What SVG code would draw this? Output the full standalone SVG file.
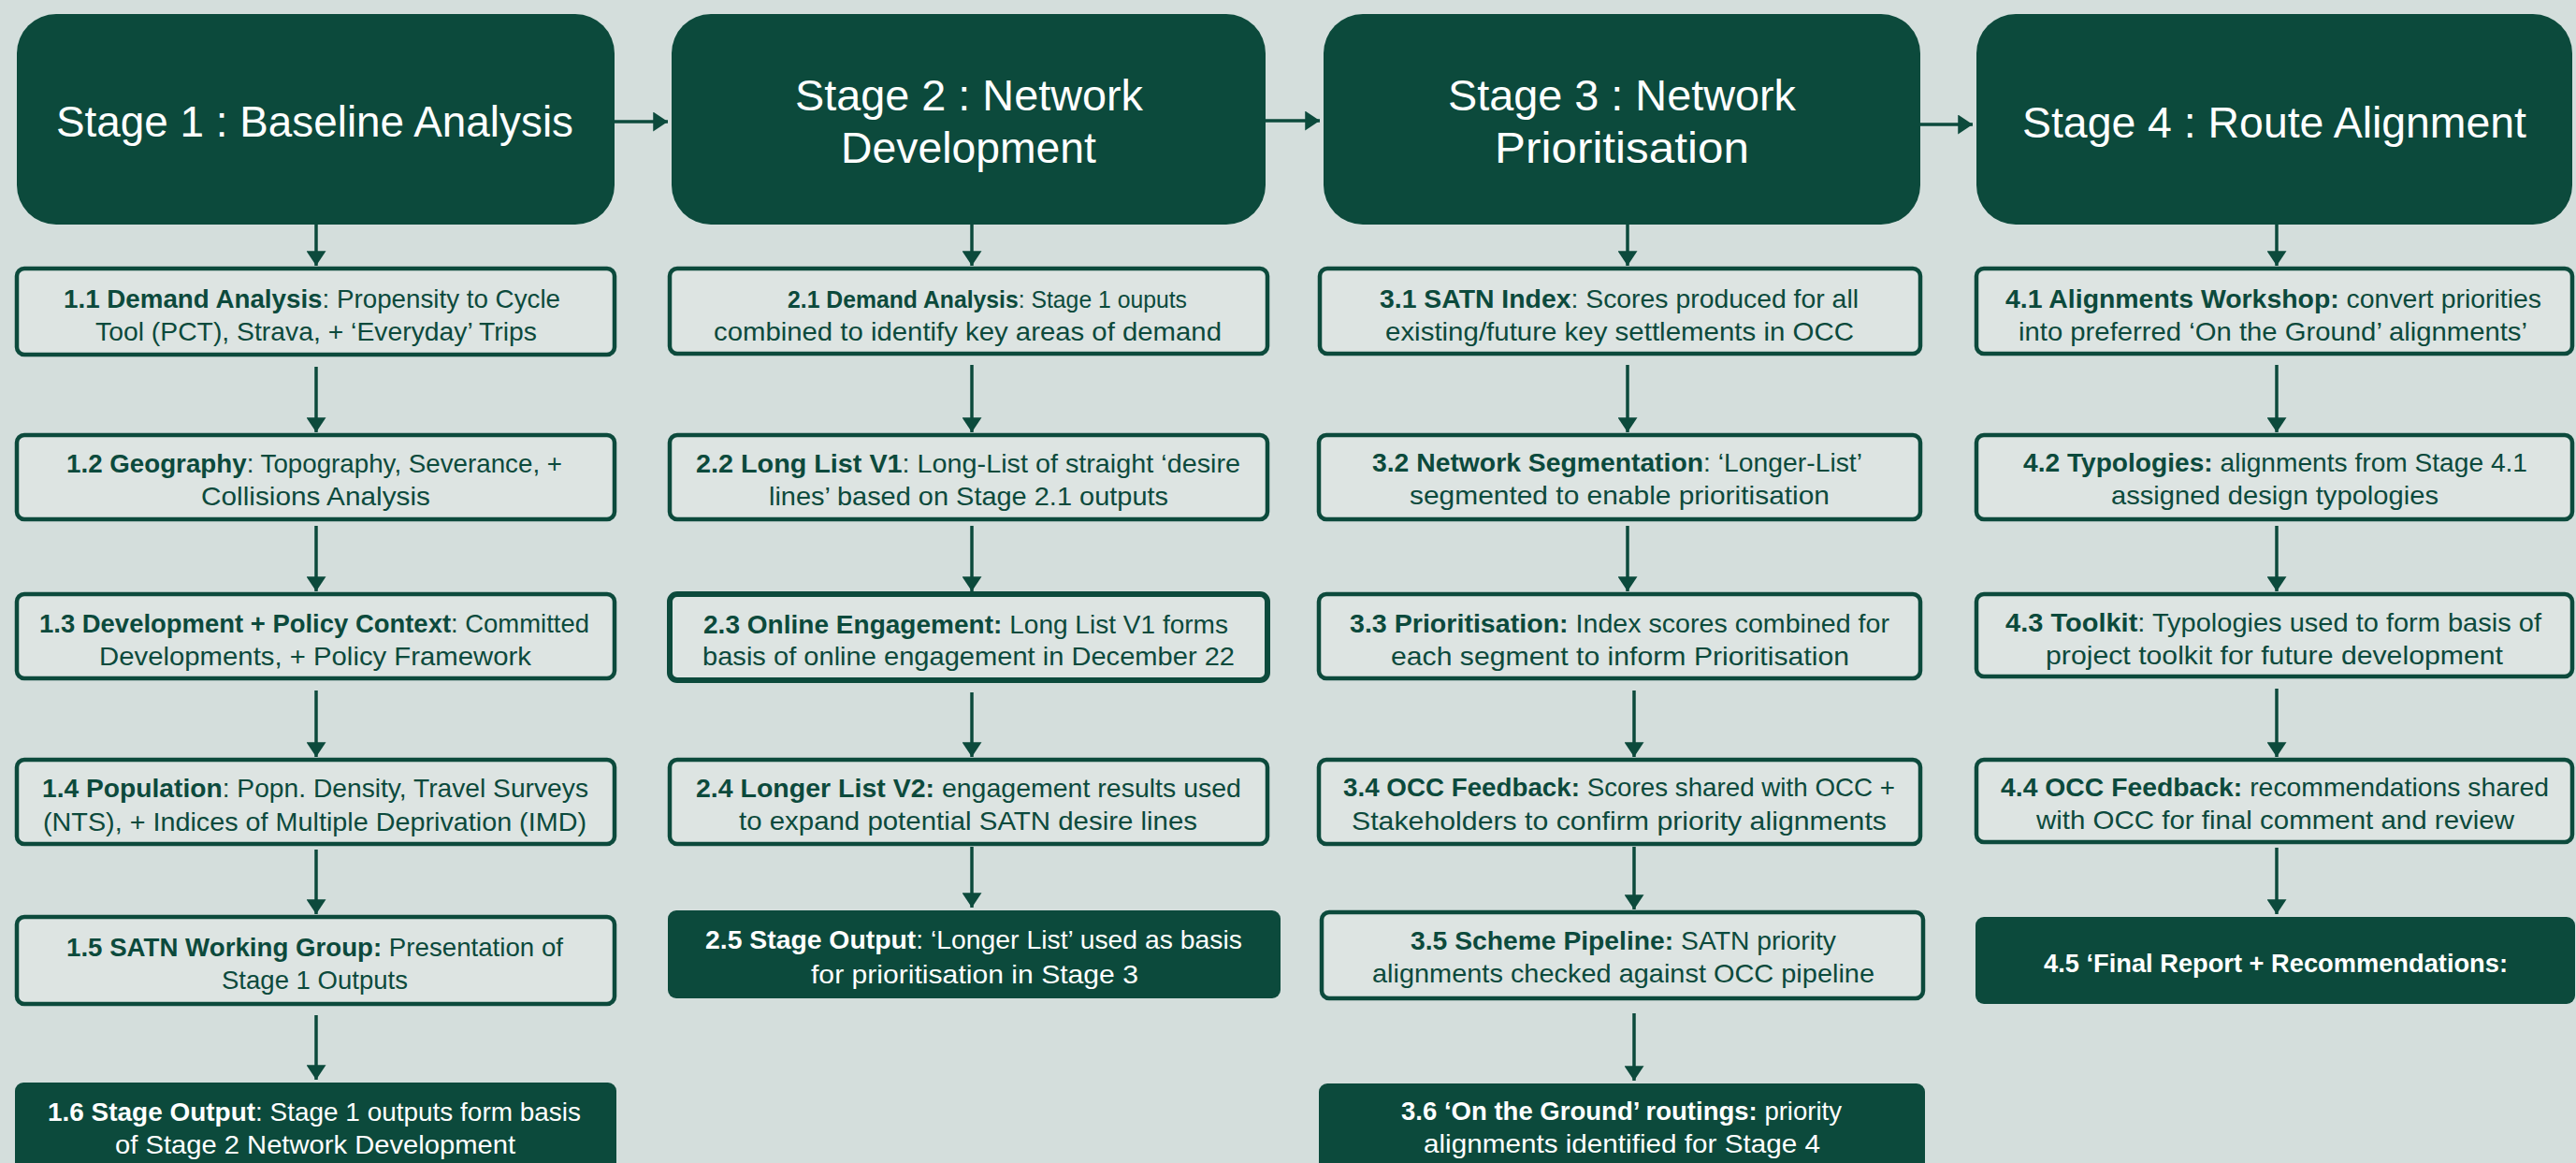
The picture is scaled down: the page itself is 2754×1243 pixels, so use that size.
<svg xmlns="http://www.w3.org/2000/svg" width="2754" height="1243" viewBox="0 0 2754 1243">
<defs>
<marker id="ah" markerUnits="userSpaceOnUse" markerWidth="28" markerHeight="21" viewBox="0 0 21 28" refX="21" refY="14" orient="auto">
<path d="M0,0 L21,14 L0,28 Z" fill="#0c4a3c"/>
</marker>
<style>
.bg{fill:#d4dedc}
.hdr{fill:#0c4a3c}
.box{fill:#dde4e2;stroke:#0c4a3c;stroke-width:4.5}
.dark{fill:#0c4a3c}
.ht{font-family:"Liberation Sans",Arial,sans-serif;font-size:46px;fill:#ffffff}
.t{font-family:"Liberation Sans",Arial,sans-serif;font-size:28px;fill:#0c4a3c}
.tw{font-family:"Liberation Sans",Arial,sans-serif;font-size:28px;fill:#ffffff}
.b{font-weight:bold}
.c{stroke:#0c4a3c;stroke-width:3.5;fill:none;marker-end:url(#ah)}
</style>
</defs>
<rect class="bg" x="0" y="0" width="2754" height="1243"/>

<g id="connectors">
<path class="c" d="M657,130 L714,130"/>
<path class="c" d="M1353,129 L1411,129"/>
<path class="c" d="M2053,133 L2109,133"/>
<path class="c" d="M338,240 L338,284"/>
<path class="c" d="M338,392 L338,462"/>
<path class="c" d="M338,562 L338,632"/>
<path class="c" d="M338,738 L338,809"/>
<path class="c" d="M338,908 L338,977"/>
<path class="c" d="M338,1085 L338,1154"/>
<path class="c" d="M1039,240 L1039,284"/>
<path class="c" d="M1039,390 L1039,462"/>
<path class="c" d="M1039,562 L1039,632"/>
<path class="c" d="M1039,740 L1039,809"/>
<path class="c" d="M1039,905 L1039,970"/>
<path class="c" d="M1740,240 L1740,284"/>
<path class="c" d="M1740,390 L1740,462"/>
<path class="c" d="M1740,562 L1740,632"/>
<path class="c" d="M1747,738 L1747,809"/>
<path class="c" d="M1747,905 L1747,972"/>
<path class="c" d="M1747,1083 L1747,1155"/>
<path class="c" d="M2434,240 L2434,284"/>
<path class="c" d="M2434,390 L2434,462"/>
<path class="c" d="M2434,562 L2434,632"/>
<path class="c" d="M2434,736 L2434,809"/>
<path class="c" d="M2434,906 L2434,977"/>
</g>

<g id="stage1">
<rect class="hdr" x="18" y="15" width="639" height="225" rx="42"/>
<text class="ht" x="60" y="146" textLength="553" lengthAdjust="spacingAndGlyphs">Stage 1 : Baseline Analysis</text>
</g>
<g id="stage2">
<rect class="hdr" x="718" y="15" width="635" height="225" rx="42"/>
<text class="ht" x="850" y="118" textLength="372" lengthAdjust="spacingAndGlyphs">Stage 2 : Network</text>
<text class="ht" x="899" y="174" textLength="273" lengthAdjust="spacingAndGlyphs">Development</text>
</g>
<g id="stage3">
<rect class="hdr" x="1415" y="15" width="638" height="225" rx="42"/>
<text class="ht" x="1548" y="118" textLength="372" lengthAdjust="spacingAndGlyphs">Stage 3 : Network</text>
<text class="ht" x="1598" y="174" textLength="272" lengthAdjust="spacingAndGlyphs">Prioritisation</text>
</g>
<g id="stage4">
<rect class="hdr" x="2113" y="15" width="637" height="225" rx="42"/>
<text class="ht" x="2162" y="147" textLength="539" lengthAdjust="spacingAndGlyphs">Stage 4 : Route Alignment</text>
</g>

<g id="n1_1">
<rect class="box" x="18" y="287" width="639" height="92" rx="8"/>
<text class="t" x="68" y="329" textLength="531" lengthAdjust="spacingAndGlyphs"><tspan class="b">1.1 Demand Analysis</tspan>: Propensity to Cycle</text>
<text class="t" x="102" y="364" textLength="472" lengthAdjust="spacingAndGlyphs">Tool (PCT), Strava, + ‘Everyday’ Trips</text>
</g>
<g id="n1_2">
<rect class="box" x="18" y="465" width="639" height="90" rx="8"/>
<text class="t" x="71" y="505" textLength="530" lengthAdjust="spacingAndGlyphs"><tspan class="b">1.2 Geography</tspan>: Topography, Severance, +</text>
<text class="t" x="215" y="540" textLength="245" lengthAdjust="spacingAndGlyphs">Collisions Analysis</text>
</g>
<g id="n1_3">
<rect class="box" x="18" y="635" width="639" height="90" rx="8"/>
<text class="t" x="42" y="676" textLength="588" lengthAdjust="spacingAndGlyphs"><tspan class="b">1.3 Development + Policy Context</tspan>: Committed</text>
<text class="t" x="106" y="711" textLength="462" lengthAdjust="spacingAndGlyphs">Developments, + Policy Framework</text>
</g>
<g id="n1_4">
<rect class="box" x="18" y="812" width="639" height="90" rx="8"/>
<text class="t" x="45" y="852" textLength="584" lengthAdjust="spacingAndGlyphs"><tspan class="b">1.4 Population</tspan>: Popn. Density, Travel Surveys</text>
<text class="t" x="46" y="888" textLength="581" lengthAdjust="spacingAndGlyphs">(NTS), + Indices of Multiple Deprivation (IMD)</text>
</g>
<g id="n1_5">
<rect class="box" x="18" y="980" width="639" height="93" rx="8"/>
<text class="t" x="71" y="1022" textLength="531" lengthAdjust="spacingAndGlyphs"><tspan class="b">1.5 SATN Working Group:</tspan> Presentation of</text>
<text class="t" x="237" y="1057" textLength="199" lengthAdjust="spacingAndGlyphs">Stage 1 Outputs</text>
</g>
<g id="n1_6">
<rect class="dark" x="16" y="1157" width="643" height="100" rx="9"/>
<text class="tw" x="51" y="1198" textLength="570" lengthAdjust="spacingAndGlyphs"><tspan class="b">1.6 Stage Output</tspan>: Stage 1 outputs form basis</text>
<text class="tw" x="123" y="1233" textLength="428" lengthAdjust="spacingAndGlyphs">of Stage 2 Network Development</text>
</g>

<g id="n2_1">
<rect class="box" x="716" y="287" width="639" height="91" rx="8"/>
<text class="t" x="842" y="329" textLength="427" lengthAdjust="spacingAndGlyphs" style="font-size:26px"><tspan class="b">2.1 Demand Analysis</tspan>: Stage 1 ouputs</text>
<text class="t" x="763" y="364" textLength="543" lengthAdjust="spacingAndGlyphs">combined to identify key areas of demand</text>
</g>
<g id="n2_2">
<rect class="box" x="716" y="465" width="639" height="90" rx="8"/>
<text class="t" x="744" y="505" textLength="582" lengthAdjust="spacingAndGlyphs"><tspan class="b">2.2 Long List V1</tspan>: Long-List of straight ‘desire</text>
<text class="t" x="822" y="540" textLength="427" lengthAdjust="spacingAndGlyphs">lines’ based on Stage 2.1  outputs</text>
</g>
<g id="n2_3">
<rect class="box" x="716" y="635" width="639" height="92" rx="8" style="stroke-width:6"/>
<text class="t" x="752" y="677" textLength="561" lengthAdjust="spacingAndGlyphs"><tspan class="b">2.3 Online Engagement:</tspan> Long List V1 forms</text>
<text class="t" x="751" y="711" textLength="569" lengthAdjust="spacingAndGlyphs">basis of online engagement in December 22</text>
</g>
<g id="n2_4">
<rect class="box" x="716" y="812" width="639" height="90" rx="8"/>
<text class="t" x="744" y="852" textLength="583" lengthAdjust="spacingAndGlyphs"><tspan class="b">2.4 Longer List V2:</tspan> engagement results used</text>
<text class="t" x="790" y="887" textLength="490" lengthAdjust="spacingAndGlyphs">to expand potential SATN desire lines</text>
</g>
<g id="n2_5">
<rect class="dark" x="714" y="973" width="655" height="94" rx="9"/>
<text class="tw" x="754" y="1014" textLength="574" lengthAdjust="spacingAndGlyphs"><tspan class="b">2.5 Stage Output</tspan>: ‘Longer List’ used as basis</text>
<text class="tw" x="867" y="1051" textLength="350" lengthAdjust="spacingAndGlyphs">for prioritisation in Stage 3</text>
</g>

<g id="n3_1">
<rect class="box" x="1411" y="287" width="642" height="91" rx="8"/>
<text class="t" x="1475" y="329" textLength="512" lengthAdjust="spacingAndGlyphs"><tspan class="b">3.1 SATN Index</tspan>: Scores produced for all</text>
<text class="t" x="1481" y="364" textLength="501" lengthAdjust="spacingAndGlyphs">existing/future key settlements in OCC</text>
</g>
<g id="n3_2">
<rect class="box" x="1410" y="465" width="643" height="90" rx="8"/>
<text class="t" x="1467" y="504" textLength="524" lengthAdjust="spacingAndGlyphs"><tspan class="b">3.2 Network Segmentation</tspan>: ‘Longer-List’</text>
<text class="t" x="1507" y="539" textLength="449" lengthAdjust="spacingAndGlyphs">segmented to enable prioritisation</text>
</g>
<g id="n3_3">
<rect class="box" x="1410" y="635" width="643" height="90" rx="8"/>
<text class="t" x="1443" y="676" textLength="577" lengthAdjust="spacingAndGlyphs"><tspan class="b">3.3 Prioritisation:</tspan> Index scores combined for</text>
<text class="t" x="1487" y="711" textLength="490" lengthAdjust="spacingAndGlyphs">each segment to inform Prioritisation</text>
</g>
<g id="n3_4">
<rect class="box" x="1410" y="812" width="643" height="90" rx="8"/>
<text class="t" x="1436" y="851" textLength="590" lengthAdjust="spacingAndGlyphs"><tspan class="b">3.4 OCC Feedback:</tspan> Scores shared with OCC +</text>
<text class="t" x="1445" y="887" textLength="572" lengthAdjust="spacingAndGlyphs">Stakeholders to confirm priority alignments</text>
</g>
<g id="n3_5">
<rect class="box" x="1413" y="975" width="643" height="92" rx="8"/>
<text class="t" x="1508" y="1015" textLength="455" lengthAdjust="spacingAndGlyphs"><tspan class="b">3.5 Scheme Pipeline:</tspan> SATN priority</text>
<text class="t" x="1467" y="1050" textLength="537" lengthAdjust="spacingAndGlyphs">alignments checked against OCC pipeline</text>
</g>
<g id="n3_6">
<rect class="dark" x="1410" y="1158" width="648" height="100" rx="9"/>
<text class="tw" x="1498" y="1197" textLength="471" lengthAdjust="spacingAndGlyphs"><tspan class="b">3.6 ‘On the Ground’ routings:</tspan> priority</text>
<text class="tw" x="1522" y="1232" textLength="424" lengthAdjust="spacingAndGlyphs">alignments identified for Stage 4</text>
</g>

<g id="n4_1">
<rect class="box" x="2113" y="287" width="637" height="91" rx="8"/>
<text class="t" x="2144" y="329" textLength="573" lengthAdjust="spacingAndGlyphs"><tspan class="b">4.1 Alignments Workshop:</tspan> convert priorities</text>
<text class="t" x="2158" y="364" textLength="544" lengthAdjust="spacingAndGlyphs">into preferred ‘On the Ground’ alignments’</text>
</g>
<g id="n4_2">
<rect class="box" x="2113" y="465" width="637" height="90" rx="8"/>
<text class="t" x="2163" y="504" textLength="539" lengthAdjust="spacingAndGlyphs"><tspan class="b">4.2 Typologies:</tspan> alignments from Stage 4.1</text>
<text class="t" x="2257" y="539" textLength="350" lengthAdjust="spacingAndGlyphs">assigned design typologies</text>
</g>
<g id="n4_3">
<rect class="box" x="2113" y="635" width="637" height="88" rx="8"/>
<text class="t" x="2144" y="675" textLength="573" lengthAdjust="spacingAndGlyphs"><tspan class="b">4.3 Toolkit</tspan>: Typologies used to form basis of</text>
<text class="t" x="2187" y="710" textLength="489" lengthAdjust="spacingAndGlyphs">project toolkit for future development</text>
</g>
<g id="n4_4">
<rect class="box" x="2113" y="812" width="637" height="88" rx="8"/>
<text class="t" x="2139" y="851" textLength="586" lengthAdjust="spacingAndGlyphs"><tspan class="b">4.4 OCC Feedback:</tspan> recommendations shared</text>
<text class="t" x="2177" y="886" textLength="511" lengthAdjust="spacingAndGlyphs">with OCC for final comment and review</text>
</g>
<g id="n4_5">
<rect class="dark" x="2112" y="980" width="641" height="93" rx="9"/>
<text class="tw b" x="2185" y="1039" textLength="496" lengthAdjust="spacingAndGlyphs">4.5 ‘Final Report + Recommendations:</text>
</g>
</svg>
